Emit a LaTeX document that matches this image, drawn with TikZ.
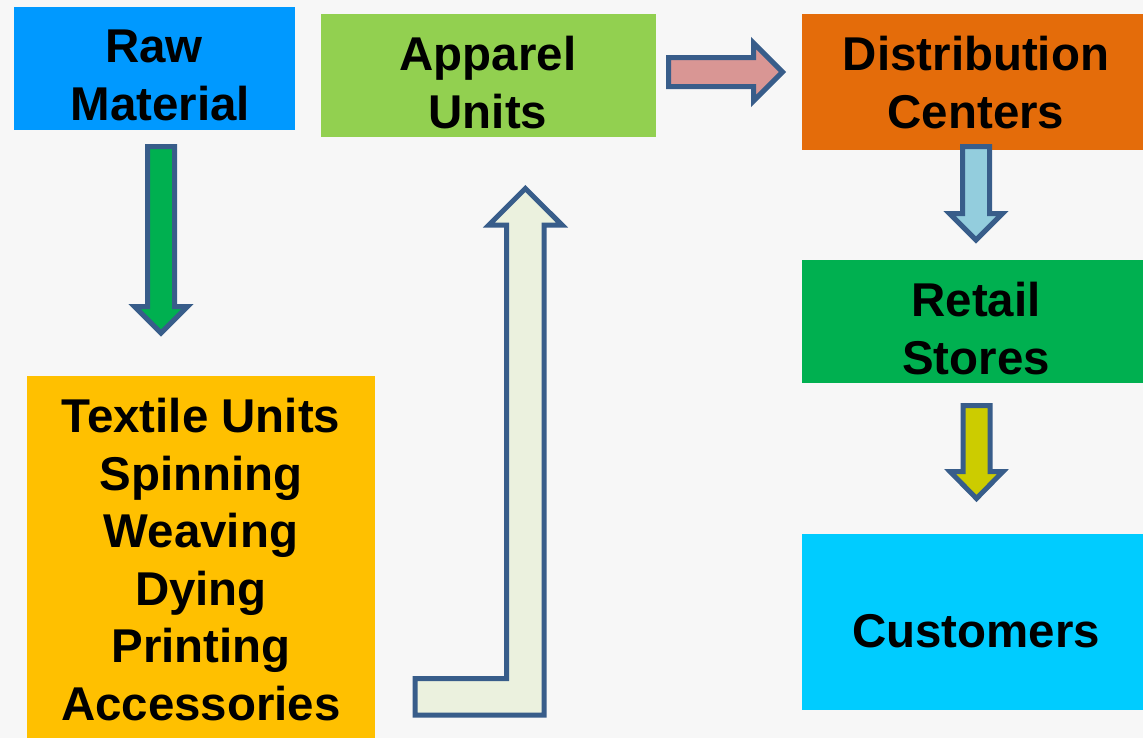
\documentclass[tikz,border=0pt]{standalone}
\usepackage{fontspec}
\setmainfont{Liberation Sans}
\usetikzlibrary{positioning}
\definecolor{bggray}{RGB}{247,247,247}
\definecolor{rawblue}{RGB}{0,153,255}
\definecolor{apparelgreen}{RGB}{146,208,80}
\definecolor{distorange}{RGB}{228,108,10}
\definecolor{retailgreen}{RGB}{0,176,80}
\definecolor{custcyan}{RGB}{0,204,255}
\definecolor{textileamber}{RGB}{255,192,0}
\definecolor{arrowblue}{RGB}{56,93,138}
\definecolor{lightfill}{RGB}{235,241,222}
\definecolor{pinkfill}{RGB}{217,150,148}
\definecolor{skyfill}{RGB}{147,205,221}
\definecolor{olivefill}{RGB}{204,204,0}

\begin{document}
\begin{tikzpicture}[
	x=0.02cm, y=-0.02cm,
	chainbox/.style={
		rectangle,
		draw=none,
		fill=#1,
		inner sep=0pt
	},
	boxtext/.style={
		font=\bfseries\fontsize{27pt}{32.7pt}\selectfont,
		align=center,
		inner sep=0pt
	},
	blockarrow/.style={
		draw=arrowblue,
		fill=#1,
		line width=0.1cm,
		line join=miter
	}
	]
	
	% Background
	\fill[bggray] (0,0) rectangle (1143,738);
	\useasboundingbox (0,0) rectangle (1143,738);
	
	% Boxes
	\node[chainbox=rawblue, minimum width=5.62cm, minimum height=2.46cm] (raw) at (154.5,68.5) {};
	\node[chainbox=apparelgreen, minimum width=6.7cm, minimum height=2.46cm] (apparel) at (488.5,75.5) {};
	\node[chainbox=distorange, minimum width=6.82cm, minimum height=2.72cm] (dist) at (972.5,82) {};
	\node[chainbox=retailgreen, minimum width=6.82cm, minimum height=2.46cm] (retail) at (972.5,321.5) {};
	\node[chainbox=custcyan, minimum width=6.82cm, minimum height=3.52cm] (cust) at (972.5,622) {};
	\node[chainbox=textileamber, minimum width=6.96cm, minimum height=7.24cm] (textile) at (201,557) {};
	
	% Box texts
	\node[boxtext] (rawtext) at (160.5,75.2) {Raw\hspace*{0.26cm}\\Material};
	\node[boxtext] (appareltext) at (488,82.4) {Apparel\\Units};
	\node[boxtext] (disttext) at (976,82.7) {Distribution\\Centers};
	\node[boxtext] (retailtext) at (976,328.7) {Retail\\Stores};
	\node[boxtext] (custtext) at (976,631.2) {Customers};
	\node[boxtext] (textiletext) at (201,559.5) {Textile Units\\Spinning\\Weaving\\Dying\\Printing\\Accessories};
	
	% Block arrows
	\draw[blockarrow=retailgreen] (147.5,146.5) -- (174.5,146.5) -- (174.5,306.5) -- (187.5,306.5) -- (161,333) -- (134.5,306.5) -- (147.5,306.5) -- cycle;
	\draw[blockarrow=lightfill] (415,715) -- (544,715) -- (544,225) -- (562,225) -- (525.4,188.5) -- (488.8,225) -- (506.7,225) -- (506.7,678.7) -- (415,678.7) -- cycle;
	\draw[blockarrow=pinkfill] (668.5,57.5) -- (753.5,57.5) -- (753.5,43) -- (782.5,72) -- (753.5,101) -- (753.5,86.5) -- (668.5,86.5) -- cycle;
	\draw[blockarrow=skyfill] (962.5,146.5) -- (989.5,146.5) -- (989.5,213.5) -- (1002.5,213.5) -- (976,240) -- (949.5,213.5) -- (962.5,213.5) -- cycle;
	\draw[blockarrow=olivefill] (963,405.5) -- (990,405.5) -- (990,471.5) -- (1003,471.5) -- (976.5,498.5) -- (950,471.5) -- (963,471.5) -- cycle;
	
\end{tikzpicture}
\end{document}
